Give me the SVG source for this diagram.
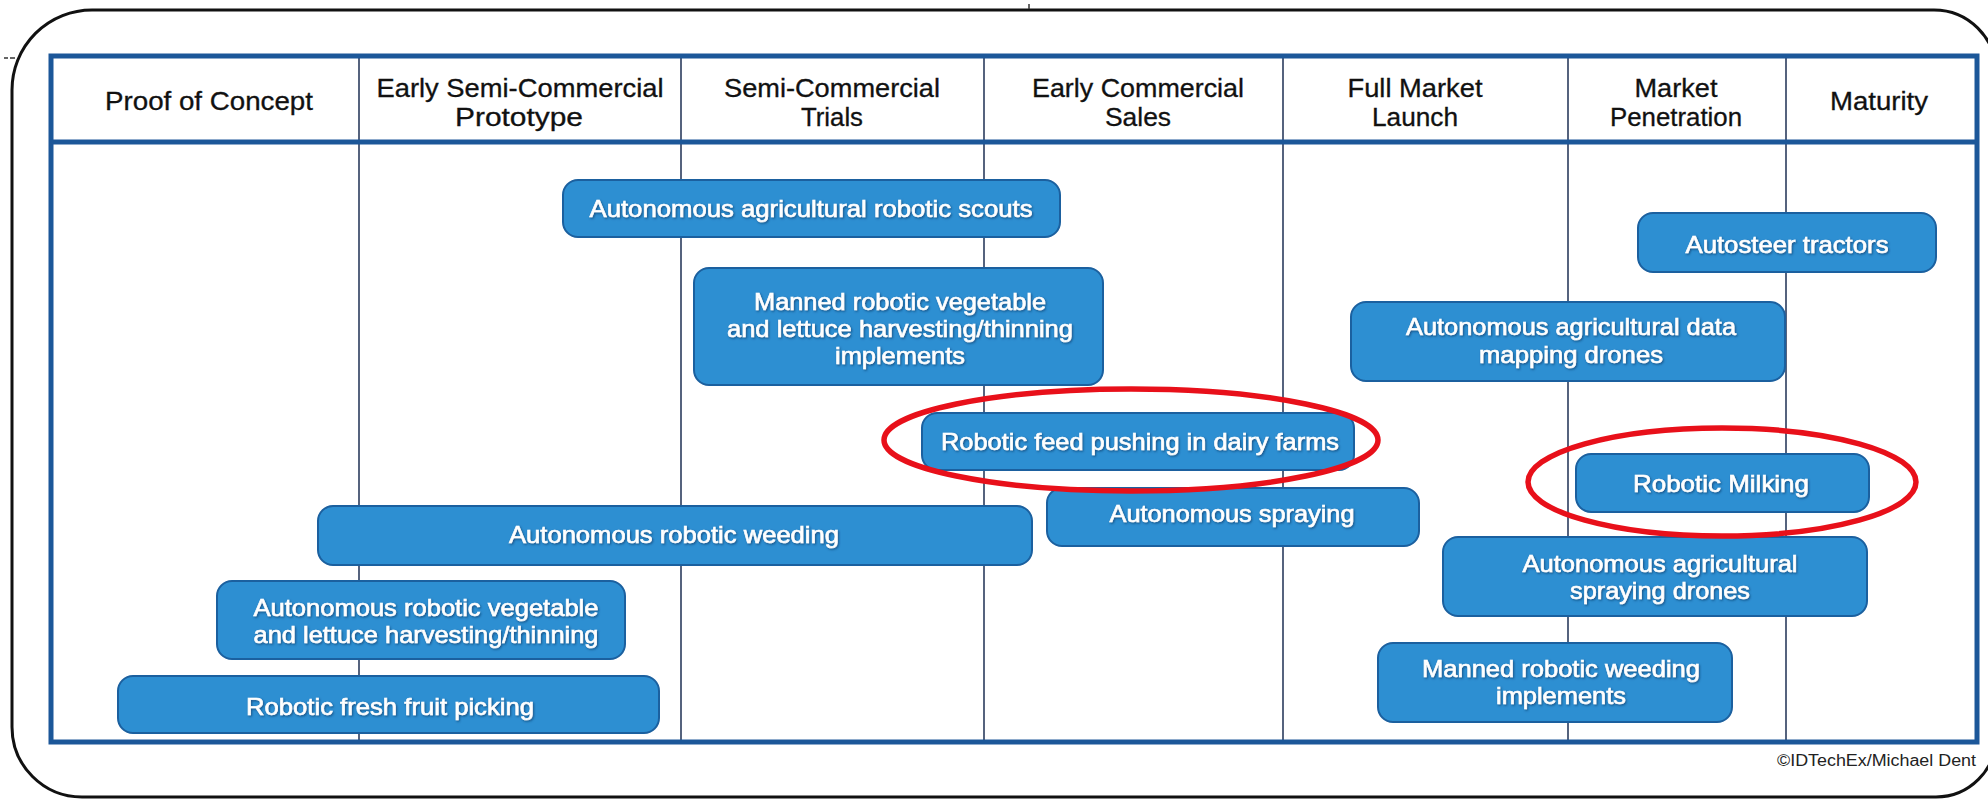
<svg xmlns="http://www.w3.org/2000/svg" width="1988" height="799" viewBox="0 0 1988 799">
<style>
.frame{fill:none;stroke:#111;stroke-width:3}
.tbl{fill:none;stroke:#1c5799;stroke-width:5}
.div{stroke:#2b3c5e;stroke-width:1.6}
.box{fill:#2d8fd2;stroke:#1b609f;stroke-width:2}
.ht{font-family:"Liberation Sans",Arial,sans-serif;font-size:25px;fill:#111;stroke:#111;stroke-width:0.3;text-anchor:middle}
.bt{font-family:"Liberation Sans",Arial,sans-serif;font-size:24px;fill:#fff;stroke:#fff;stroke-width:0.6;text-anchor:middle;filter:url(#sh)}
.ring{fill:none;stroke:#e8101a;stroke-width:5.5}
.cp{font-family:"Liberation Sans",Arial,sans-serif;font-size:16px;fill:#222;text-anchor:end}
</style>
<defs>
<filter id="sh" x="-5%" y="-30%" width="110%" height="160%">
<feDropShadow dx="1" dy="1.2" stdDeviation="0.8" flood-color="#0a3560" flood-opacity="0.7"/>
</filter>
</defs>
<rect width="1988" height="799" fill="#fff"/>
<path class="frame" d="M92 10 H1934 A62 62 0 0 1 1996 72 V737 A60 60 0 0 1 1936 797 H82 A70 70 0 0 1 12 727 V90 A80 80 0 0 1 92 10 Z"/>
<g stroke="#333" stroke-width="1.5">
<line x1="4" y1="58" x2="8" y2="58"/><line x1="10" y1="58" x2="15" y2="58"/>
<line x1="1029" y1="4" x2="1029" y2="9"/>
</g>
<g id="table">
<line class="div" x1="359" y1="56" x2="359" y2="742"/>
<line class="div" x1="681" y1="56" x2="681" y2="742"/>
<line class="div" x1="984" y1="56" x2="984" y2="742"/>
<line class="div" x1="1283" y1="56" x2="1283" y2="742"/>
<line class="div" x1="1568" y1="56" x2="1568" y2="742"/>
<line class="div" x1="1786" y1="56" x2="1786" y2="742"/>
<rect class="tbl" x="51" y="56" width="1926" height="686"/>
<line class="tbl" x1="51" y1="142" x2="1977" y2="142"/>
</g>
<g id="headers">
<text class="ht" x="209" y="110" textLength="208" lengthAdjust="spacingAndGlyphs">Proof of Concept</text>
<text class="ht" x="520" y="97" textLength="287" lengthAdjust="spacingAndGlyphs">Early Semi-Commercial</text>
<text class="ht" x="519" y="126" textLength="128" lengthAdjust="spacingAndGlyphs">Prototype</text>
<text class="ht" x="832" y="97" textLength="216" lengthAdjust="spacingAndGlyphs">Semi-Commercial</text>
<text class="ht" x="832" y="126" textLength="62" lengthAdjust="spacingAndGlyphs">Trials</text>
<text class="ht" x="1138" y="97" textLength="212" lengthAdjust="spacingAndGlyphs">Early Commercial</text>
<text class="ht" x="1138" y="126" textLength="66" lengthAdjust="spacingAndGlyphs">Sales</text>
<text class="ht" x="1415" y="97" textLength="135" lengthAdjust="spacingAndGlyphs">Full Market</text>
<text class="ht" x="1415" y="126" textLength="86" lengthAdjust="spacingAndGlyphs">Launch</text>
<text class="ht" x="1676" y="97" textLength="83" lengthAdjust="spacingAndGlyphs">Market</text>
<text class="ht" x="1676" y="126" textLength="132" lengthAdjust="spacingAndGlyphs">Penetration</text>
<text class="ht" x="1879" y="110" textLength="98" lengthAdjust="spacingAndGlyphs">Maturity</text>
</g>
<g id="n-scouts"><rect class="box" x="563" y="180" width="497" height="57" rx="15"/>
<text class="bt" x="811" y="217" textLength="443" lengthAdjust="spacingAndGlyphs">Autonomous agricultural robotic scouts</text></g>
<g id="n-autosteer"><rect class="box" x="1638" y="213" width="298" height="59" rx="15"/>
<text class="bt" x="1787" y="253" textLength="203" lengthAdjust="spacingAndGlyphs">Autosteer tractors</text></g>
<g id="n-manned-veg"><rect class="box" x="694" y="268" width="409" height="117" rx="15"/>
<text class="bt" x="900" y="310" textLength="292" lengthAdjust="spacingAndGlyphs">Manned robotic vegetable</text>
<text class="bt" x="900" y="337" textLength="346" lengthAdjust="spacingAndGlyphs">and lettuce harvesting/thinning</text>
<text class="bt" x="900" y="364" textLength="130" lengthAdjust="spacingAndGlyphs">implements</text></g>
<g id="n-mapping"><rect class="box" x="1351" y="302" width="434" height="79" rx="15"/>
<text class="bt" x="1571" y="335" textLength="330" lengthAdjust="spacingAndGlyphs">Autonomous agricultural data</text>
<text class="bt" x="1571" y="363" textLength="184" lengthAdjust="spacingAndGlyphs">mapping drones</text></g>
<g id="n-feed"><rect class="box" x="922" y="413" width="432" height="57" rx="15"/>
<text class="bt" x="1140" y="450" textLength="398" lengthAdjust="spacingAndGlyphs">Robotic feed pushing in dairy farms</text></g>
<g id="n-spraying"><rect class="box" x="1047" y="488" width="372" height="58" rx="15"/>
<text class="bt" x="1232" y="522" textLength="245" lengthAdjust="spacingAndGlyphs">Autonomous spraying</text></g>
<g id="n-milking"><rect class="box" x="1576" y="454" width="293" height="58" rx="15"/>
<text class="bt" x="1721" y="492" textLength="176" lengthAdjust="spacingAndGlyphs">Robotic Milking</text></g>
<g id="n-weeding"><rect class="box" x="318" y="506" width="714" height="59" rx="15"/>
<text class="bt" x="674" y="543" textLength="330" lengthAdjust="spacingAndGlyphs">Autonomous robotic weeding</text></g>
<g id="n-spray-drones"><rect class="box" x="1443" y="537" width="424" height="79" rx="15"/>
<text class="bt" x="1660" y="572" textLength="275" lengthAdjust="spacingAndGlyphs">Autonomous agricultural</text>
<text class="bt" x="1660" y="599" textLength="180" lengthAdjust="spacingAndGlyphs">spraying drones</text></g>
<g id="n-auto-veg"><rect class="box" x="217" y="581" width="408" height="78" rx="15"/>
<text class="bt" x="426" y="616" textLength="345" lengthAdjust="spacingAndGlyphs">Autonomous robotic vegetable</text>
<text class="bt" x="426" y="643" textLength="345" lengthAdjust="spacingAndGlyphs">and lettuce harvesting/thinning</text></g>
<g id="n-manned-weeding"><rect class="box" x="1378" y="643" width="354" height="79" rx="15"/>
<text class="bt" x="1561" y="677" textLength="278" lengthAdjust="spacingAndGlyphs">Manned robotic weeding</text>
<text class="bt" x="1561" y="704" textLength="130" lengthAdjust="spacingAndGlyphs">implements</text></g>
<g id="n-fruit"><rect class="box" x="118" y="676" width="541" height="57" rx="15"/>
<text class="bt" x="390" y="715" textLength="288" lengthAdjust="spacingAndGlyphs">Robotic fresh fruit picking</text></g>
<g id="connectors"></g>
<g id="highlights">
<ellipse class="ring" cx="1131" cy="440" rx="247" ry="51"/>
<ellipse class="ring" cx="1722" cy="482" rx="194" ry="54"/>
</g>
<text class="cp" x="1976" y="766" textLength="199" lengthAdjust="spacingAndGlyphs">©IDTechEx/Michael Dent</text>
</svg>
